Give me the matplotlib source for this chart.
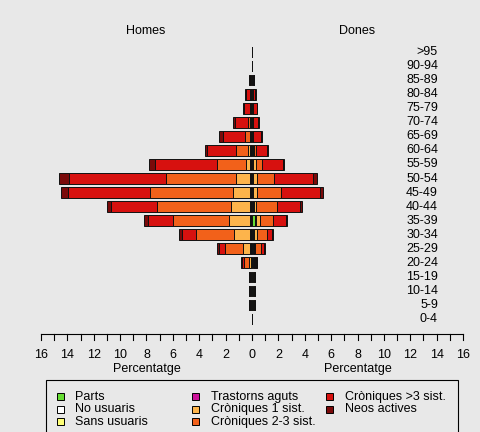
import matplotlib
matplotlib.use("Agg")
import matplotlib.pyplot as plt
import numpy as np

plt.rcParams["font.family"] = ["Liberation Sans", "DejaVu Sans"]

# age groups, bottom to top
ages = ["0-4", "5-9", "10-14", "15-19", "20-24", "25-29", "30-34", "35-39",
        "40-44", "45-49", "50-54", "55-59", "60-64", "65-69", "70-74",
        "75-79", "80-84", "85-89", "90-94", ">95"]

categories = ["Parts", "No usuaris", "Sans usuaris", "Trastorns aguts",
              "Cròniques 1 sist.", "Cròniques 2-3 sist.", "Cròniques >3 sist.",
              "Neos actives"]
colors = ["#66DD33", "#FFFFFF", "#FFFF77", "#CC1199",
          "#FDB44B", "#F2611A", "#D7110F", "#7A0A0A"]

# Homes (percentatge), one list per category, same order as ages
homes_parts = [0] * 20
homes_no_usuaris = [0.02, 0.08, 0.08, 0.08, 0.04, 0.04, 0.04, 0.04, 0.04, 0.04,
                    0.04, 0.04, 0.04, 0.03, 0.03, 0.03, 0.03, 0.06, 0.02, 0.02]
homes_sans = [0.01, 0.08, 0.08, 0.08, 0.04, 0.05, 0.05, 0.05, 0.05, 0.05,
              0.05, 0.05, 0.05, 0.03, 0.03, 0.03, 0.02, 0.06, 0.01, 0.01]
homes_aguts = [0, 0.04, 0.04, 0.04, 0.02, 0.03, 0.03, 0.03, 0.03, 0.03,
               0.03, 0.03, 0.03, 0.02, 0.02, 0.02, 0.02, 0.03, 0, 0]
homes_c1 = [0, 0.03, 0.03, 0.03, 0.15, 0.6, 1.27, 1.6, 1.5, 1.3,
            1.12, 0.35, 0.2, 0.05, 0.05, 0.02, 0.02, 0.02, 0, 0]
homes_c23 = [0, 0.02, 0.02, 0.02, 0.38, 1.36, 2.88, 4.27, 5.56, 6.32,
             5.28, 2.2, 0.87, 0.43, 0.15, 0.05, 0.03, 0, 0, 0]
homes_c3 = [0, 0, 0, 0, 0.1, 0.4, 1.03, 1.92, 3.54, 6.24,
            7.35, 4.65, 2.2, 1.64, 0.98, 0.45, 0.3, 0.03, 0, 0]
homes_neos = [0, 0, 0, 0, 0.12, 0.18, 0.2, 0.3, 0.3, 0.5,
              0.76, 0.5, 0.2, 0.27, 0.15, 0.1, 0.08, 0, 0, 0]

# Dones (percentatge)
dones_parts = [0, 0, 0, 0, 0.08, 0.1, 0.05, 0.2, 0.02, 0,
               0, 0, 0, 0, 0, 0, 0, 0, 0, 0]
dones_no_usuaris = [0.02, 0.06, 0.06, 0.06, 0.04, 0.03, 0.03, 0.03, 0.03, 0.03,
                    0.03, 0.03, 0.03, 0.02, 0.02, 0.02, 0.02, 0.05, 0.02, 0.02]
dones_sans = [0.01, 0.06, 0.06, 0.06, 0.05, 0.04, 0.04, 0.03, 0.04, 0.04,
              0.04, 0.03, 0.03, 0.02, 0.02, 0.02, 0.02, 0.05, 0.01, 0.01]
dones_aguts = [0, 0.03, 0.03, 0.03, 0.03, 0.03, 0.03, 0.02, 0.03, 0.03,
               0.03, 0.02, 0.02, 0.02, 0.02, 0.02, 0.02, 0.02, 0, 0]
dones_c1 = [0, 0.03, 0.03, 0.03, 0.05, 0.05, 0.2, 0.3, 0.15, 0.25,
            0.3, 0.2, 0.06, 0.02, 0, 0, 0, 0, 0, 0]
dones_c23 = [0, 0.03, 0.03, 0.03, 0.08, 0.43, 0.76, 1.0, 1.6, 1.85,
             1.24, 0.45, 0.15, 0.02, 0.02, 0, 0, 0, 0, 0]
dones_c3 = [0, 0.02, 0.02, 0.02, 0.05, 0.25, 0.43, 0.96, 1.8, 2.95,
            2.96, 1.6, 0.85, 0.6, 0.38, 0.3, 0.2, 0.03, 0, 0]
dones_neos = [0, 0.02, 0.02, 0.02, 0.02, 0.07, 0.08, 0.08, 0.15, 0.25,
              0.35, 0.12, 0.05, 0.06, 0.04, 0.04, 0.04, 0.02, 0, 0]

homes = [homes_parts, homes_no_usuaris, homes_sans, homes_aguts,
         homes_c1, homes_c23, homes_c3, homes_neos]
dones = [dones_parts, dones_no_usuaris, dones_sans, dones_aguts,
         dones_c1, dones_c23, dones_c3, dones_neos]

xticks = np.arange(-16, 17, 1)
xlabels = np.arange(-16, 17, 2)

# pixel geometry of the reference (481x432)
W, H = 481, 432
X0, XS = 252, 13.19      # pixel of zero, pixels per unit
Y0, YS = 319, 14.05      # pixel of the lowest row, pixels per row


def dx(p):
    return (p - X0) / XS


def dy(p):
    return (Y0 - p) / YS


fig = plt.figure(figsize=(W / 100, H / 100), dpi=100)
bg = "#E8E8E8"
fig.patch.set_facecolor(bg)
ax = fig.add_axes([0, 0, 1, 1])
ax.set_facecolor(bg)
ax.set_xlim(dx(0), dx(W))
ax.set_ylim(dy(H), dy(0))
ax.axis("off")

y = np.arange(len(ages))
cum_h = np.zeros(len(ages))
cum_d = np.zeros(len(ages))
for vals_h, vals_d, col in zip(homes, dones, colors):
    vh = np.array(vals_h, dtype=float)
    vd = np.array(vals_d, dtype=float)
    ax.barh(y, -vh, left=-cum_h, height=0.76, color=col,
            edgecolor="#111111", linewidth=0.7)
    ax.barh(y, vd, left=cum_d, height=0.76, color=col,
            edgecolor="#111111", linewidth=0.7)
    cum_h += vh
    cum_d += vd

fs = 9
# age labels on the right
for yi, lab in zip(y, ages):
    ax.text(dx(438), yi, lab, ha="right", va="center", fontsize=fs)

ax.text(dx(146), dy(31), "Homes", ha="center", va="center", fontsize=fs)
ax.text(dx(357), dy(31), "Dones", ha="center", va="center", fontsize=fs)

# bottom axis
ya = dy(333.5)
ax.plot([xticks[0], xticks[-1]], [ya, ya], color="black", lw=0.8)
for t in xticks:
    ax.plot([t, t], [ya, dy(339.5)], color="black", lw=0.8)
for t in xlabels:
    ax.text(t, dy(355), str(abs(t)), ha="center", va="center", fontsize=fs)
ax.text(-8, dy(369), "Percentatge", ha="center", va="center", fontsize=fs)
ax.text(8, dy(369), "Percentatge", ha="center", va="center", fontsize=fs)

# legend box
ax.add_patch(plt.Rectangle((dx(46), dy(445)), dx(458) - dx(46), dy(380) - dy(445),
                           facecolor=bg, edgecolor="black", lw=0.8))
col_x = [60.3, 195.7, 329.7]
row_y = [396.7, 409.3, 421.8]
sq = 7
for k, (lab, col) in enumerate(zip(categories, colors)):
    c, r = k // 3, k % 3
    cx, cy = col_x[c], row_y[r]
    ax.add_patch(plt.Rectangle((dx(cx - sq / 2), dy(cy + sq / 2)),
                               sq / XS, sq / YS, facecolor=col,
                               edgecolor="black", lw=0.7))
    ax.text(dx(cx + 15), dy(cy), lab, ha="left", va="center", fontsize=fs)

fig.savefig("out.png", dpi=100, facecolor=bg)
